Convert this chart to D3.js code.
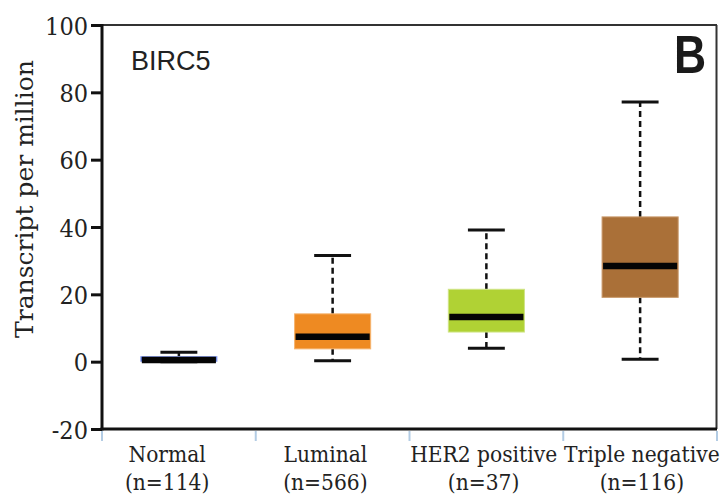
<!DOCTYPE html>
<html>
<head>
<meta charset="utf-8">
<script src="https://cdn.jsdelivr.net/npm/d3@7"></script>
<style>
  html, body { margin: 0; padding: 0; background: #fff; }
  svg { display: block; }
</style>
</head>
<body>
<svg id="chart" width="727" height="496"></svg>
<script>
// Expression of BIRC5 across breast cancer subclasses (box plot summary statistics)
const categories = ["Normal", "Luminal", "HER2 positive", "Triple negative"];
const sampleSizes = ["(n=114)", "(n=566)", "(n=37)", "(n=116)"];
const whiskerLow  = [0.0, 0.3, 4.0, 0.7];
const quartile1   = [0.1, 3.8, 8.8, 19.1];
const medians     = [0.5, 7.4, 13.3, 28.4];
const quartile3   = [1.5, 14.2, 21.5, 43.0];
const whiskerHigh = [2.8, 31.5, 39.1, 77.1];
const boxColors   = ["#3f5fd8", "#ee8a22", "#b0d234", "#aa7038"];
const boxEdges    = ["#8ea2ec", "#f6b36e", "#cfe486", "#c99a6c"];
const yTicks = [-20, 0, 20, 40, 60, 80, 100];

const svg = d3.select("#chart");
const plotL = 102, plotR = 717, plotT = 25, plotB = 429;

const y = d3.scaleLinear().domain([-20, 100]).range([plotB, plotT]);
const x = d3.scaleBand().domain(categories).range([plotL, plotR]).padding(0);
const bw = x.bandwidth();
// labels are spread on a slightly wider band than the plot
const xLab = d3.scaleBand().domain(categories).range([88, 721]).padding(0);

const rows = categories.map((c, i) => ({
  cat: c, n: sampleSizes[i], lo: whiskerLow[i], q1: quartile1[i],
  med: medians[i], q3: quartile3[i], hi: whiskerHigh[i],
  fill: boxColors[i], edge: boxEdges[i]
}));

// frame: thin top/right, heavy left/bottom
svg.append("line").attr("x1", plotL).attr("x2", plotR).attr("y1", plotT).attr("y2", plotT)
  .attr("stroke", "#333").attr("stroke-width", 2);
svg.append("line").attr("x1", plotR - 0.5).attr("x2", plotR - 0.5).attr("y1", plotT).attr("y2", plotB)
  .attr("stroke", "#333").attr("stroke-width", 2);

// y axis
const yAxis = svg.append("g").attr("transform", `translate(${plotL},0)`)
  .call(d3.axisLeft(y).tickValues(yTicks).tickSize(11).tickPadding(3).tickFormat(d => String(d)));
yAxis.select(".domain").remove();
yAxis.selectAll(".tick line").attr("stroke", "#111").attr("stroke-width", 3);
yAxis.selectAll(".tick text")
  .attr("font-family", "'DejaVu Serif Condensed', 'DejaVu Serif', serif")
  .attr("font-stretch", "condensed")
  .attr("font-size", 25).attr("fill", "#222").attr("dy", "0.36em");

svg.append("line").attr("x1", plotL).attr("x2", plotL).attr("y1", plotT - 1).attr("y2", plotB + 1.5)
  .attr("stroke", "#111").attr("stroke-width", 3);
svg.append("line").attr("x1", plotL - 1.5).attr("x2", plotR).attr("y1", plotB).attr("y2", plotB)
  .attr("stroke", "#111").attr("stroke-width", 3);

// category separators below the axis
const edges = categories.map(c => x(c)).concat([x(categories[categories.length - 1]) + bw]);
svg.selectAll(".sep").data(edges).join("line").attr("class", "sep")
  .attr("x1", d => d).attr("x2", d => d).attr("y1", plotB + 2).attr("y2", plotB + 12)
  .attr("stroke", "#b3cce4").attr("stroke-width", 2);

// category labels
const labels = svg.selectAll(".cat").data(rows).join("text").attr("class", "cat")
  .attr("text-anchor", "middle")
  .attr("font-family", "'DejaVu Serif Condensed', 'DejaVu Serif', serif")
  .attr("font-stretch", "condensed")
  .attr("font-size", 22.5).attr("fill", "#222");
labels.append("tspan").attr("x", d => xLab(d.cat) + xLab.bandwidth() / 2).attr("y", 462).text(d => d.cat);
labels.append("tspan").attr("x", d => xLab(d.cat) + xLab.bandwidth() / 2).attr("y", 490).text(d => d.n);

// y title
svg.append("text")
  .attr("transform", "translate(33,199) rotate(-90)")
  .attr("text-anchor", "middle")
  .attr("font-family", "'DejaVu Serif', serif")
  .attr("font-size", 25).attr("fill", "#222")
  .text("Transcript per million");

// boxes
const boxW = bw * 0.495, capW = bw * 0.24;
const g = svg.selectAll(".box").data(rows).join("g").attr("class", "box")
  .attr("transform", d => `translate(${x(d.cat) + bw / 2},0)`);

g.append("line").attr("x1", 0).attr("x2", 0)
  .attr("y1", d => y(d.q3)).attr("y2", d => y(d.hi))
  .attr("stroke", "#111").attr("stroke-width", 2.5).attr("stroke-dasharray", "6,4");
g.append("line").attr("x1", 0).attr("x2", 0)
  .attr("y1", d => y(d.q1)).attr("y2", d => y(d.lo))
  .attr("stroke", "#111").attr("stroke-width", 2.5).attr("stroke-dasharray", "6,4");
g.append("line").attr("x1", -capW / 2).attr("x2", capW / 2)
  .attr("y1", d => y(d.hi)).attr("y2", d => y(d.hi))
  .attr("stroke", "#111").attr("stroke-width", 3);
g.append("line").attr("x1", -capW / 2).attr("x2", capW / 2)
  .attr("y1", d => y(d.lo)).attr("y2", d => y(d.lo))
  .attr("stroke", "#111").attr("stroke-width", 3);
g.append("rect").attr("x", -boxW / 2).attr("width", boxW)
  .attr("y", d => y(d.q3)).attr("height", d => y(d.q1) - y(d.q3))
  .attr("fill", d => d.fill).attr("stroke", d => d.edge).attr("stroke-width", 1);
g.append("line").attr("x1", -boxW / 2 + 1).attr("x2", boxW / 2 - 1)
  .attr("y1", d => y(d.med)).attr("y2", d => y(d.med))
  .attr("stroke", "#050505").attr("stroke-width", 6.5);

// gene name and panel letter
svg.append("text").attr("x", 131).attr("y", 69.5)
  .attr("font-family", "'Liberation Sans', Arial, sans-serif")
  .attr("font-size", 27).attr("fill", "#222").text("BIRC5");
svg.append("text").attr("transform", "translate(674,73) scale(0.84,1)")
  .attr("font-family", "'Liberation Sans', Arial, sans-serif")
  .attr("font-weight", "bold")
  .attr("font-size", 53).attr("fill", "#1a1a1a").text("B");
</script>
</body>
</html>
